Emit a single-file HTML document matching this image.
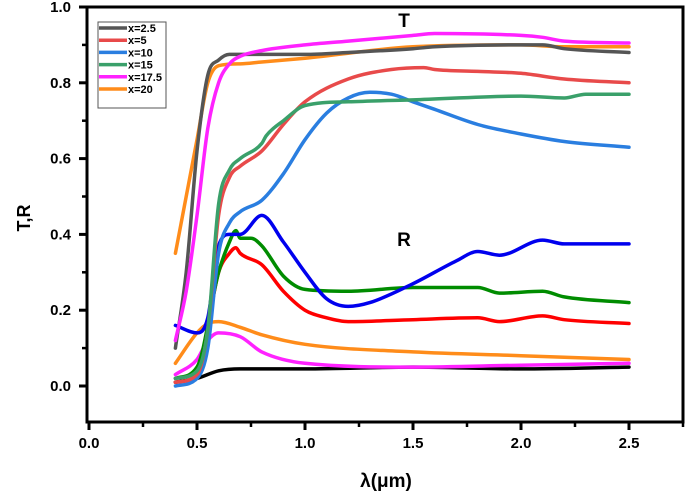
<!DOCTYPE html>
<html><head><meta charset="utf-8"><style>
body{margin:0;background:#fff}
svg{display:block;font-family:"Liberation Sans",Arial,sans-serif}
</style></head><body>
<svg id="chart" width="685" height="492" viewBox="0 0 685 492">
<g id="plot"></g>
<g id="axes"></g>
<text x="404" y="27" font-size="19" font-weight="bold" text-anchor="middle">T</text>
<text x="404" y="246" font-size="19" font-weight="bold" text-anchor="middle">R</text>
<text x="386" y="487" font-size="19" font-weight="bold" text-anchor="middle">λ(μm)</text>
<text transform="translate(30,218) rotate(-90)" font-size="18" font-weight="bold" text-anchor="middle">T,R</text>
<g id="legend"></g>
</svg>
<script>
const xTicks=[0,0.5,1.0,1.5,2.0,2.5];
const xTickLabels=["0.0","0.5","1.0","1.5","2.0","2.5"];
const yTicks=[0,0.2,0.4,0.6,0.8,1.0];
const yTickLabels=["0.0","0.2","0.4","0.6","0.8","1.0"];
const legendLabels=["x=2.5","x=5","x=10","x=15","x=17.5","x=20"];

const t25x=[0.4,0.45,0.5,0.55,0.6,0.65,0.7,0.8,1.0,1.2,1.5,1.6,2.0,2.1,2.2,2.5];
const t25y=[0.10,0.30,0.62,0.82,0.86,0.875,0.875,0.875,0.875,0.88,0.89,0.895,0.9,0.9,0.89,0.88];
const t175x=[0.4,0.45,0.5,0.55,0.6,0.65,0.7,0.8,1.0,1.2,1.5,1.6,2.0,2.1,2.2,2.5];
const t175y=[0.12,0.25,0.45,0.68,0.8,0.85,0.87,0.885,0.9,0.91,0.925,0.93,0.925,0.92,0.91,0.905];
const t20x=[0.4,0.45,0.5,0.55,0.6,0.7,0.8,1.0,1.5,2.0,2.2,2.5];
const t20y=[0.35,0.5,0.65,0.8,0.845,0.85,0.855,0.865,0.895,0.9,0.895,0.895];
const t5x=[0.4,0.5,0.55,0.6,0.65,0.7,0.8,0.9,1.0,1.2,1.4,1.55,1.6,1.8,2.0,2.2,2.5];
const t5y=[0.01,0.03,0.15,0.45,0.55,0.58,0.62,0.69,0.75,0.81,0.835,0.84,0.835,0.83,0.825,0.81,0.8];
const t15x=[0.4,0.5,0.55,0.6,0.65,0.7,0.8,0.82,0.9,1.0,1.2,1.5,2.0,2.2,2.3,2.5];
const t15y=[0.02,0.04,0.15,0.48,0.57,0.6,0.64,0.66,0.7,0.74,0.75,0.755,0.765,0.76,0.77,0.77];
const t10x=[0.4,0.5,0.55,0.6,0.65,0.7,0.8,0.9,1.0,1.1,1.2,1.3,1.4,1.5,1.6,1.8,2.0,2.2,2.5];
const t10y=[0.0,0.02,0.1,0.35,0.43,0.46,0.49,0.56,0.65,0.72,0.76,0.775,0.77,0.75,0.73,0.69,0.665,0.645,0.63];

const r25x=[0.4,0.5,0.6,0.7,1.0,1.5,2.0,2.5];
const r25y=[0.01,0.02,0.04,0.045,0.045,0.05,0.045,0.05];
const r175x=[0.4,0.5,0.55,0.6,0.7,0.8,1.0,1.5,2.0,2.5];
const r175y=[0.03,0.07,0.12,0.14,0.13,0.09,0.06,0.05,0.055,0.06];
const r20x=[0.4,0.5,0.55,0.6,0.7,0.8,1.0,1.5,2.0,2.5];
const r20y=[0.06,0.14,0.165,0.17,0.155,0.135,0.11,0.09,0.08,0.07];
const r10x=[0.4,0.5,0.55,0.6,0.65,0.7,0.8,0.9,1.0,1.1,1.2,1.3,1.5,1.7,1.8,1.9,2.1,2.2,2.5];
const r10y=[0.16,0.14,0.18,0.37,0.4,0.4,0.45,0.38,0.3,0.23,0.21,0.22,0.27,0.33,0.355,0.345,0.385,0.375,0.375];
const r15x=[0.4,0.5,0.6,0.65,0.68,0.7,0.75,0.8,0.9,1.0,1.2,1.5,1.8,1.9,2.1,2.2,2.5];
const r15y=[0.02,0.05,0.3,0.38,0.41,0.39,0.39,0.37,0.29,0.255,0.25,0.26,0.26,0.245,0.25,0.235,0.22];
const r5x=[0.4,0.5,0.6,0.65,0.68,0.7,0.8,0.9,1.0,1.1,1.2,1.5,1.8,1.9,2.1,2.2,2.5];
const r5y=[0.01,0.03,0.3,0.35,0.365,0.35,0.32,0.25,0.2,0.18,0.17,0.175,0.18,0.17,0.185,0.175,0.165];

const X0=89,XS=216,Y0=386,YS=379;
const sx=v=>X0+v*XS, sy=v=>Y0-v*YS;
const NS="http://www.w3.org/2000/svg";
function mk(tag,attrs,parent){const e=document.createElementNS(NS,tag);for(const k in attrs)e.setAttribute(k,attrs[k]);parent.appendChild(e);return e;}
const plot=document.getElementById('plot'),axes=document.getElementById('axes'),legend=document.getElementById('legend');

// monotone cubic path
function monoPath(xs,ys){
 const n=xs.length,P=xs.map(sx),Q=ys.map(sy);
 const d=[],m=new Array(n);
 for(let i=0;i<n-1;i++)d.push((Q[i+1]-Q[i])/(P[i+1]-P[i]));
 m[0]=d[0];m[n-1]=d[n-2];
 for(let i=1;i<n-1;i++)m[i]=(d[i-1]*d[i]<=0)?0:(d[i-1]+d[i])/2;
 for(let i=0;i<n-1;i++){if(d[i]===0){m[i]=0;m[i+1]=0;continue;}const a=m[i]/d[i],b=m[i+1]/d[i],s=a*a+b*b;if(s>9){const t=3/Math.sqrt(s);m[i]=t*a*d[i];m[i+1]=t*b*d[i];}}
 let p='M'+P[0].toFixed(1)+','+Q[0].toFixed(1);
 for(let i=0;i<n-1;i++){const h=(P[i+1]-P[i])/3;
  p+='C'+(P[i]+h).toFixed(1)+','+(Q[i]+m[i]*h).toFixed(1)+' '+(P[i+1]-h).toFixed(1)+','+(Q[i+1]-m[i+1]*h).toFixed(1)+' '+P[i+1].toFixed(1)+','+Q[i+1].toFixed(1);}
 return p;
}

const series=[
 [r25x,r25y,"#000000","r-curve-x2.5"],[r175x,r175y,"#ff22ff","r-curve-x17.5"],[r20x,r20y,"#ff8c1a","r-curve-x20"],
 [r5x,r5y,"#ff0000","r-curve-x5"],[r15x,r15y,"#008c00","r-curve-x15"],[r10x,r10y,"#0000ee","r-curve-x10"],
 [t10x,t10y,"#2a7ee0","t-curve-x10"],[t5x,t5y,"#e84a4a","t-curve-x5"],[t15x,t15y,"#3aa06a","t-curve-x15"],
 [t20x,t20y,"#ff8c1a","t-curve-x20"],[t25x,t25y,"#555555","t-curve-x2.5"],[t175x,t175y,"#ff22ff","t-curve-x17.5"]
];
series.forEach(s=>{
 const p=mk('path',{d:monoPath(s[0],s[1]),fill:'none',stroke:s[2],'stroke-width':3.5,'stroke-linejoin':'round','stroke-linecap':'round'},plot);
 
 
});

const fr=mk('rect',{x:87,y:7,width:596,height:415,fill:'none',stroke:'#000','stroke-width':3},axes);


xTicks.forEach((v,i)=>{
 const t=mk('line',{x1:sx(v),x2:sx(v),y1:422,y2:430,stroke:'#000','stroke-width':3},axes);
 
 
 const m=mk('line',{x1:sx(v+0.25),x2:sx(v+0.25),y1:422,y2:427,stroke:'#000','stroke-width':2.5},axes);
 
 
 const l=mk('text',{x:sx(v),y:448,'font-size':15,'font-weight':'bold','text-anchor':'middle'},axes);
 l.textContent=xTickLabels[i];
 
 
});
yTicks.forEach((v,i)=>{
 const t=mk('line',{x1:79,x2:87,y1:sy(v),y2:sy(v),stroke:'#000','stroke-width':3},axes);
 
 
 if(v<1){const m=mk('line',{x1:82,x2:87,y1:sy(v+0.1),y2:sy(v+0.1),stroke:'#000','stroke-width':2.5},axes);
 
 }
 const l=mk('text',{x:71,y:sy(v)+5,'font-size':15,'font-weight':'bold','text-anchor':'end'},axes);
 l.textContent=yTickLabels[i];
 
 
});

const lb=mk('rect',{x:98,y:22,width:68,height:86,fill:'#fff',stroke:'#555','stroke-width':1},legend);


const legColors=["#555555","#e84a4a","#2a7ee0","#3aa06a","#ff22ff","#ff8c1a"];
legendLabels.forEach((lab,i)=>{
 const y=28+i*12.2;
 const ln=mk('line',{x1:99,x2:127,y1:y,y2:y,stroke:legColors[i],'stroke-width':3.5},legend);
 
 
 const tx=mk('text',{x:128,y:y+4,'font-size':11,'font-weight':'bold'},legend);
 tx.textContent=lab;
 
 
});
</script>
</body></html>
